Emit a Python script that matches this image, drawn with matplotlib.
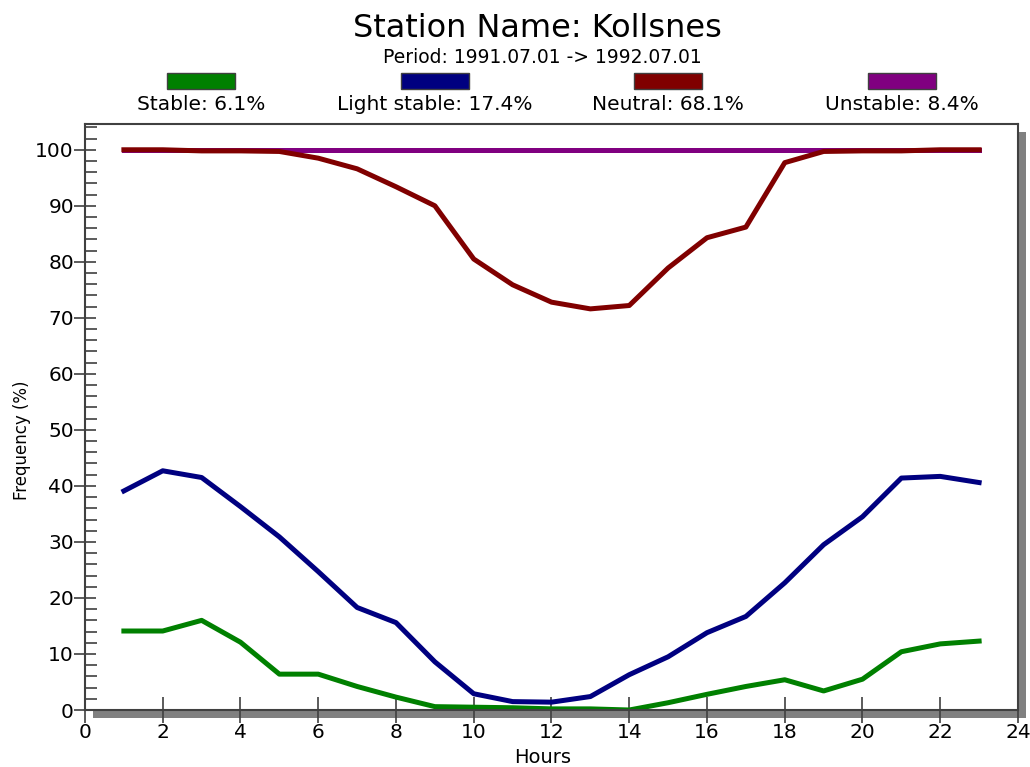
import numpy as np
import matplotlib
matplotlib.use("Agg")
import matplotlib.pyplot as plt
from matplotlib.patches import Rectangle
from matplotlib.ticker import MultipleLocator
import matplotlib.patheffects as pe

hours = list(range(1, 24))

stable = [14.1, 14.1, 16.0, 12.1, 6.4, 6.4, 4.2, 2.3, 0.6, 0.5, 0.4, 0.2,
          0.2, 0.0, 1.3, 2.8, 4.2, 5.4, 3.4, 5.5, 10.4, 11.8, 12.3]
light_stable = [39.1, 42.7, 41.5, 36.3, 30.9, 24.7, 18.3, 15.6, 8.6, 2.9, 1.5, 1.4,
                2.4, 6.3, 9.5, 13.8, 16.7, 22.7, 29.5, 34.5, 41.4, 41.7, 40.6]
neutral = [100.0, 100.0, 99.8, 99.8, 99.7, 98.5, 96.6, 93.4, 90.0, 80.5, 75.9, 72.8,
           71.6, 72.2, 78.9, 84.3, 86.2, 97.7, 99.7, 99.8, 99.8, 100.0, 100.0]
unstable = [100.0] * 23

class_names = ["Stable", "Light stable", "Neutral", "Unstable"]
class_share = [6.1, 17.4, 68.1, 8.4]
class_colors = ["#008000", "#000080", "#800000", "#800080"]

plt.rcParams['font.family'] = ['DejaVu Sans']

fig = plt.figure(figsize=(10.30, 7.67), dpi=100)
ax = fig.add_axes([85 / 1030, 57 / 767, 933 / 1030, 586 / 767])

# grey drop shadow behind the plot frame
ax.patch.set_path_effects([pe.SimplePatchShadow(offset=(5.5, -5.5), shadow_rgbFace="#808080", alpha=1.0),
                           pe.Normal()])

lw = 3.6
ax.plot(hours, stable, color=class_colors[0], lw=lw, solid_joinstyle="round")
ax.plot(hours, light_stable, color=class_colors[1], lw=lw, solid_joinstyle="round")
ax.plot(hours, unstable, color=class_colors[3], lw=lw, solid_joinstyle="round")
ax.plot(hours, neutral, color=class_colors[2], lw=lw, solid_joinstyle="round")

ax.set_xlim(0, 24)
ax.set_ylim(0, 104.6)
ax.xaxis.set_major_locator(MultipleLocator(2))
ax.yaxis.set_major_locator(MultipleLocator(10))
ax.yaxis.set_minor_locator(MultipleLocator(2))
ax.tick_params(axis="x", which="major", direction="inout", length=19, width=1.2,
               color="#404040", labelsize=14.5, pad=0)
ax.tick_params(axis="y", which="major", direction="inout", length=16, width=1.2,
               color="#404040", labelsize=14.5, pad=0)
ax.tick_params(axis="y", which="minor", direction="in", length=8.5, width=1.2, color="#404040")
for s in ax.spines.values():
    s.set_color("#404040")
    s.set_linewidth(1.5)

ax.set_xlabel("Hours", fontsize=14)
ax.set_ylabel("Frequency (%)", fontsize=12)
ax.xaxis.set_label_coords(0.49, -0.064)
ax.yaxis.set_label_coords(-0.058, 0.46)

fig.text(0.522, 0.963, "Station Name: Kollsnes", ha="center", va="center", fontsize=23)
fig.text(0.527, 0.925, "Period: 1991.07.01 -> 1992.07.01", ha="center", va="center",
         fontsize=13.5)

# legend: colour box with the label underneath
centers = [201, 435, 668, 902]
for cx, name, share, col in zip(centers, class_names, class_share, class_colors):
    fig.patches.append(Rectangle(((cx - 34) / 1030, (767 - 89) / 767), 68 / 1030, 16 / 767,
                                 transform=fig.transFigure, facecolor=col,
                                 edgecolor="#404040", lw=1))
    fig.text(cx / 1030, (767 - 105) / 767, f"{name}: {share}%", ha="center", va="center",
             fontsize=14.5)

fig.savefig("out.png", dpi=100, facecolor="white")
